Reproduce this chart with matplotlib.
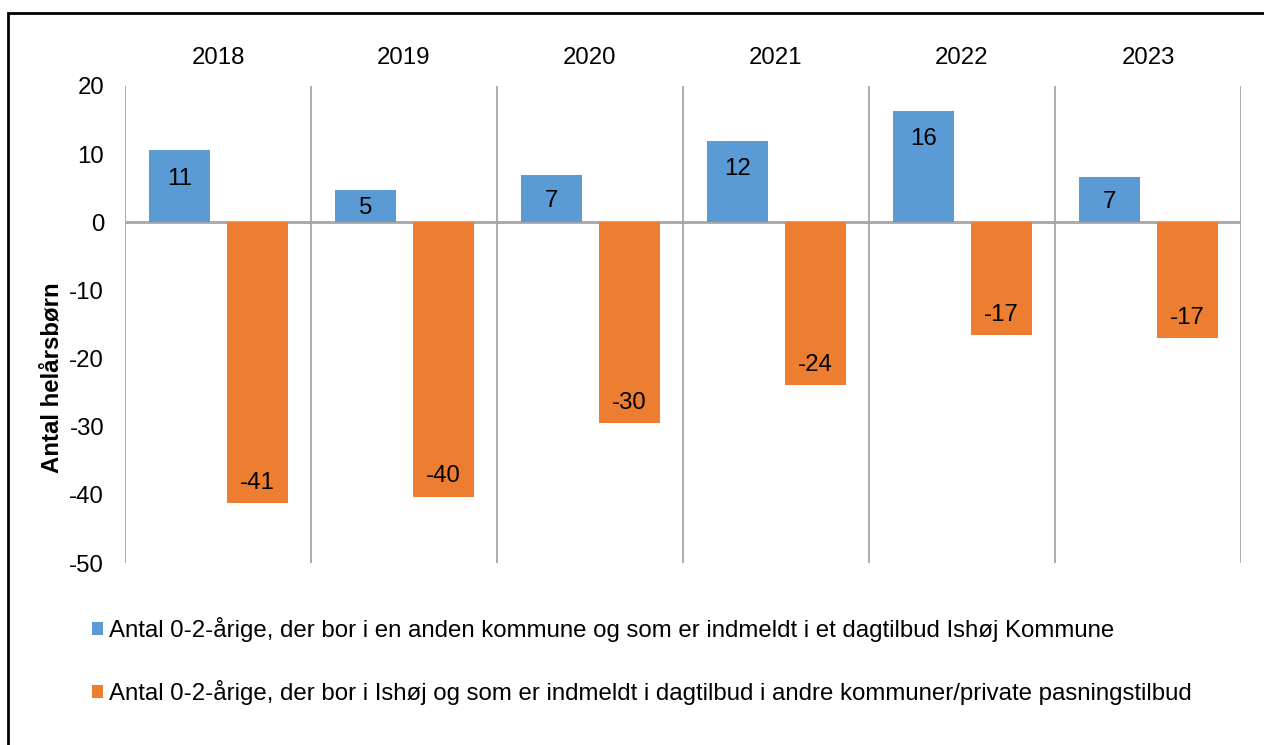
import matplotlib.pyplot as plt
from matplotlib.patches import Rectangle
import matplotlib.transforms as mtransforms
import numpy as np

plt.rcParams["font.family"] = ["Liberation Sans", "DejaVu Sans"]
plt.rcParams["axes.unicode_minus"] = False

# ── Data ────────────────────────────────────────────────────────────
years = ["2018", "2019", "2020", "2021", "2022", "2023"]
udefra = [10.6, 4.8, 6.9, 12.0, 16.4, 6.7]          # blue series
ud_af = [-41.2, -40.3, -29.5, -23.9, -16.6, -17.0]  # orange series

labels = [
    "Antal 0-2-årige, der bor i en anden kommune og som er indmeldt i et dagtilbud Ishøj Kommune",
    "Antal 0-2-årige, der bor i Ishøj og som er indmeldt i dagtilbud i andre kommuner/private pasningstilbud",
]

BLUE = "#5B9BD5"
ORANGE = "#ED7D31"
GRID = "#A6A6A6"
FS = 17.3

fig = plt.figure(figsize=(12.64, 7.45), dpi=100)
ax = fig.add_axes([125 / 1264, 1 - 563 / 745, 1116 / 1264, 477 / 745])

x = np.arange(len(years))
w = 0.328
b1 = ax.bar(x - 0.207, udefra, w, color=BLUE, label=labels[0], zorder=2)
b2 = ax.bar(x + 0.21, ud_af, w, color=ORANGE, label=labels[1], zorder=2)

# data labels, inside end
for bars, vals in ((b1, udefra), (b2, ud_af)):
    for bar, v in zip(bars, vals):
        if v >= 0:
            y = max(v - 4.2, v / 2 - 0.3)
        else:
            y = min(v + 3.0, v / 2)
        ax.text(bar.get_x() + bar.get_width() / 2, y, f"{round(v):d}",
                ha="center", va="center", fontsize=FS, color="black", zorder=3)

ax.set_xlim(-0.5, len(years) - 0.5)
ax.set_ylim(-50, 20)
ax.set_yticks(range(-50, 21, 10))
ax.set_xticks([])
ax.tick_params(axis="y", length=0, labelsize=FS, pad=15)
for s in ax.spines.values():
    s.set_visible(False)

# category separators and zero line
for sep in np.arange(-0.5, len(years), 1.0):
    ax.axvline(sep, color=GRID, lw=1.3, zorder=1)
ax.axhline(0, color=GRID, lw=2, zorder=1)

# year labels along the top
trans = mtransforms.blended_transform_factory(ax.transData, ax.transAxes)
for xi, yr in zip(x, years):
    ax.text(xi, 1.058, yr, transform=trans, ha="center", va="center",
            fontsize=FS, color="black")

fig.text(52 / 1264, 1 - 378 / 745, "Antal helårsbørn", rotation=90,
         ha="center", va="center", fontsize=FS, fontweight="bold")

fig.legend(handles=[b1, b2], loc="upper left",
           bbox_to_anchor=(92 / 1264, 1 - 617 / 745), frameon=False,
           fontsize=FS, handlelength=0.45, handleheight=0.45,
           handletextpad=0.25, labelspacing=1.6, borderpad=0,
           borderaxespad=0)

# outer frame (right and bottom edges fall outside the image)
fig.patches.append(Rectangle((7.5 / 1264, -0.1), 1.2, 1.1 - 13 / 745,
                             transform=fig.transFigure, fill=False,
                             edgecolor="black", lw=2, clip_on=False))

fig.savefig("out.png", dpi=100)
